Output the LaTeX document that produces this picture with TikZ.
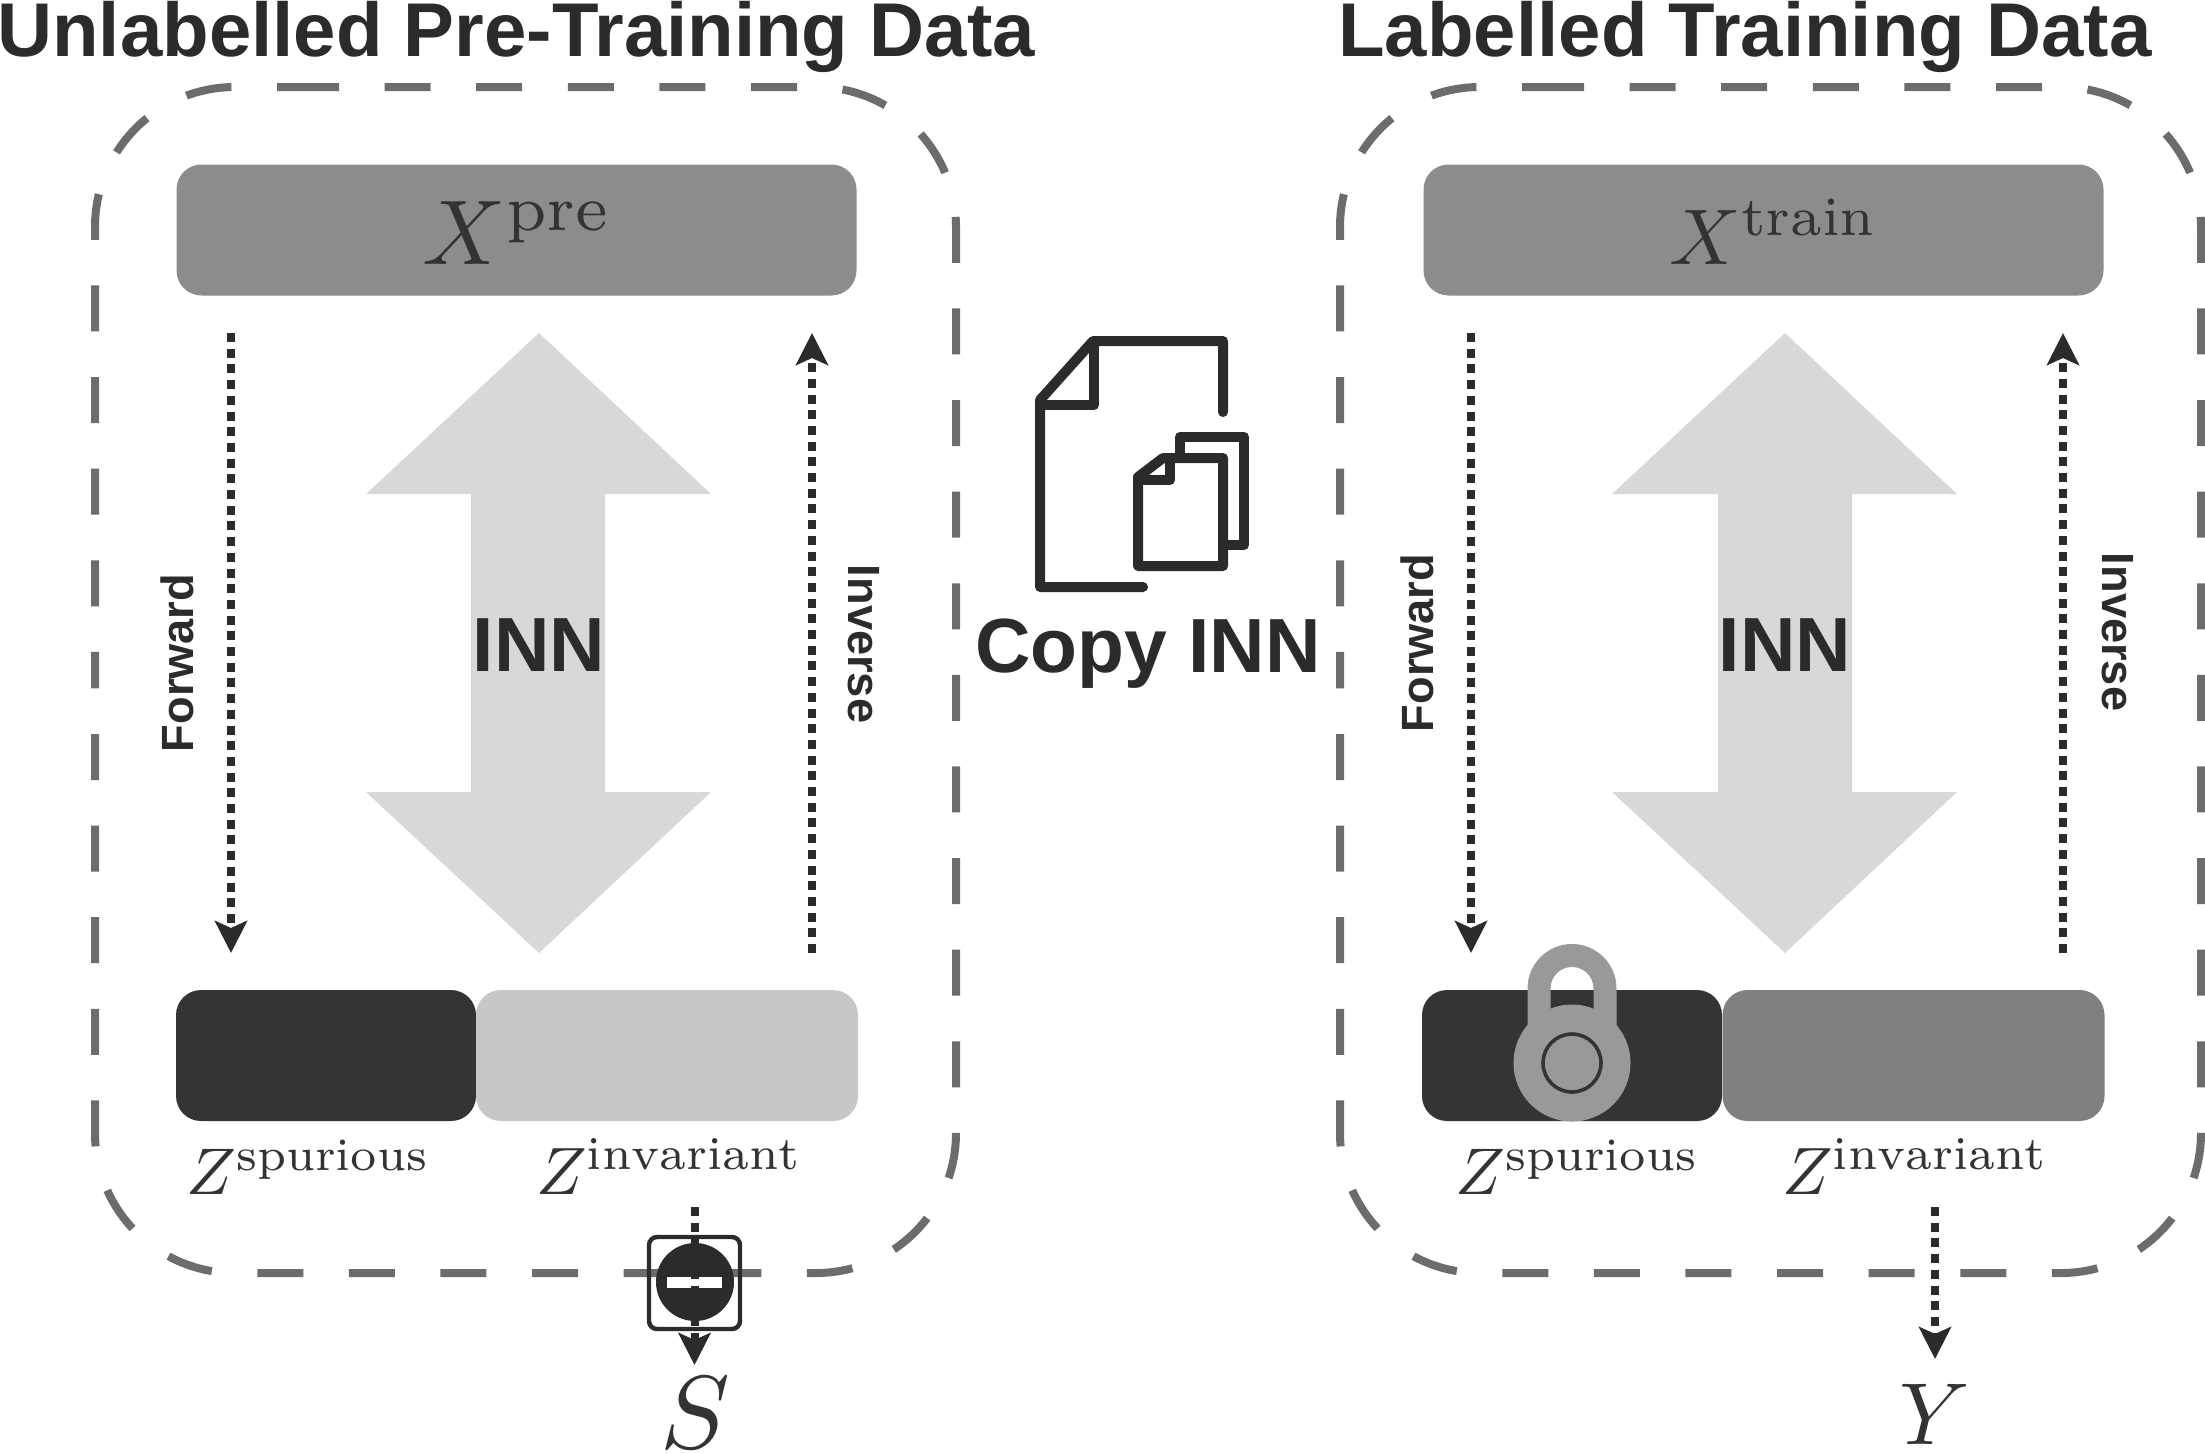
\documentclass[tikz,border=0pt]{standalone}
\usepackage{fontspec}
\newfontfamily\hv{Liberation Sans}
\usetikzlibrary{arrows.meta}
\definecolor{ink}{HTML}{2B2B2B}
\definecolor{txt}{HTML}{333333}
\definecolor{frame}{HTML}{6E6C6B}
\definecolor{xbox}{HTML}{8A8D8B}
\definecolor{spur}{HTML}{343434}
\definecolor{invlight}{HTML}{C8C7C5}
\definecolor{invdark}{HTML}{808080}
\definecolor{bigarrow}{HTML}{D8D8D8}
\definecolor{lockc}{HTML}{999999}
\tikzset{
  x=0.5pt,y=-0.5pt,
  outerframe/.style={draw=frame,line width=4pt,rounded corners=70pt,dash pattern=on 23pt off 22.8pt},
  barbox/.style={inner sep=0pt,outer sep=0pt,rounded corners=12.5pt,minimum height=65.5pt},
  xbar/.style={barbox,fill=xbox,minimum width=340pt},
  spurbar/.style={barbox,fill=spur,minimum width=150pt},
  invbar/.style={barbox,minimum width=191pt},
  dotline/.style={draw=ink,line width=4pt,dash pattern=on 4.5pt off 3.35pt,-{Stealth[length=16pt,width=16pt,inset=3.5pt]}},
  mathlab/.style={inner sep=0pt,anchor=base west,text=txt},
  sideword/.style={inner sep=0pt,text=ink,font=\hv\bfseries\fontsize{22.6}{24}\selectfont},
  heading/.style={inner sep=0pt,anchor=base west,text=ink,font=\hv\bfseries\fontsize{38.1}{40}\selectfont},
  inn/.style={inner sep=0pt,text=ink,font=\hv\bfseries\fontsize{38.4}{40}\selectfont},
  icon/.style={draw=ink,line width=5pt,line join=round,line cap=round},
}
\begin{document}
\begin{tikzpicture}
\useasboundingbox (0,0) rectangle (2205,1453);
% titles
\node[heading] (t1) at (-3,56) {Unlabelled Pre-Training Data};
\node[heading] (t2) at (1338,56) {Labelled Training Data};
% dashed frames
\draw[outerframe] (293,87) -- (956,87) -- (956,1273) -- (95,1273) -- (95,680);
\draw[outerframe,dash phase=15pt] (293,87) -- (95,87) -- (95,680);
\draw[outerframe] (1538,87) -- (2201,87) -- (2201,1273) -- (1340,1273) -- (1340,680);
\draw[outerframe,dash phase=15pt] (1538,87) -- (1340,87) -- (1340,680);
% big arrows
\fill[bigarrow] (539,333) -- (711,494) -- (605,494) -- (605,792) -- (711,792) -- (539,953) -- (366,792) -- (471,792) -- (471,494) -- (366,494) -- cycle;
\fill[bigarrow] (1785,333) -- (1957,494) -- (1852,494) -- (1852,792) -- (1957,792) -- (1785,953) -- (1612,792) -- (1718,792) -- (1718,494) -- (1612,494) -- cycle;
% bars
\node[xbar] (xpre) at (516.5,230) {};
\node[xbar] (xtrain) at (1763.5,230) {};
\node[spurbar] (zs1) at (326,1055.5) {};
\node[invbar,fill=invlight] (zi1) at (667,1055.5) {};
\node[spurbar] (zs2) at (1572,1055.5) {};
\node[invbar,fill=invdark] (zi2) at (1913.5,1055.5) {};
% math labels
\node[mathlab,scale=4.6] (lx1) at (421,264) {$X^{\mathrm{pre}}$};
\node[mathlab,scale=3.95] (lx2) at (1668,264) {$X^{\mathrm{train}}$};
\node[mathlab,scale=3.3] (lzs1) at (185,1194) {$Z^{\mathrm{spurious}}$};
\node[mathlab,scale=3.35] (lzi1) at (535,1194) {$Z^{\mathrm{invariant}}$};
\node[mathlab,scale=3.3] (lzs2) at (1454,1194) {$Z^{\mathrm{spurious}}$};
\node[mathlab,scale=3.35] (lzi2) at (1781,1194) {$Z^{\mathrm{invariant}}$};
\node[mathlab,scale=5.2,anchor=base] (lS) at (695,1448) {$S$};
\node[mathlab,scale=4.4,anchor=base] (lY) at (1935,1444) {$Y$};
% words
\node[inn] (inn1) at (539,645) {INN};
\node[inn] (inn2) at (1785,645) {INN};
\node[inn] (copy) at (1148,654) {Copy INN};
\node[sideword,rotate=90] (f1) at (177,663) {Forward};
\node[sideword,rotate=-90] (i1) at (864,644) {Inverse};
\node[sideword,rotate=90] (f2) at (1417,643) {Forward};
\node[sideword,rotate=-90] (i2) at (2118,632) {Inverse};
% connector ends
\coordinate (fa1) at (231,333); \coordinate (fb1) at (231,953);
\coordinate (ia1) at (812,953); \coordinate (ib1) at (812,333);
\coordinate (fa2) at (1471,333); \coordinate (fb2) at (1471,953);
\coordinate (ia2) at (2063,953); \coordinate (ib2) at (2063,333);
\coordinate (da1) at (694.5,1207); \coordinate (db1) at (694.5,1365);
\coordinate (da2) at (1935,1207); \coordinate (db2) at (1935,1359);
\draw[dotline] (fa1) -- (fb1);
\draw[dotline] (ia1) -- (ib1);
\draw[dotline] (fa2) -- (fb2);
\draw[dotline] (ia2) -- (ib2);
% forbidden sign
\draw[draw=ink,line width=2.2pt,rounded corners=4pt] (649,1237) rectangle (740,1329);
\fill[ink] (695,1282) circle[radius=39];
\fill[white] (667,1277) rectangle (722,1288);
\draw[dotline] (da1) -- (db1);
\draw[dotline] (da2) -- (db2);
% lock
\draw[lockc,line width=11.5pt] (1539,1050) -- (1539,988.5) arc[start angle=180,end angle=360,radius=33] -- (1605,1050);
\fill[lockc] (1572,1063) circle[radius=58.5];
\draw[draw=spur,line width=1.8pt] (1572,1063) circle[radius=29];
% copy icon
\draw[icon] (1223,412) -- (1223,341) -- (1093,341) -- (1040,400) -- (1040,587) -- (1143,587);
\draw[icon] (1094,341) -- (1094,405) -- (1040,405);
\draw[icon] (1180,453) -- (1180,437) -- (1244,437) -- (1244,545) -- (1228,545);
\draw[icon] (1138,477) -- (1138,566) -- (1223,566) -- (1223,458) -- (1163,458) -- cycle;
\draw[icon] (1170,458) -- (1170,480) -- (1138,480);
\end{tikzpicture}
\end{document}
